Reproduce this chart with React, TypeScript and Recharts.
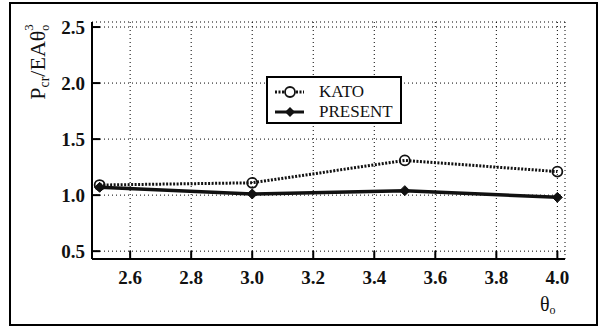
import React from "react";
import { CartesianGrid, Legend, Line, LineChart, XAxis, YAxis } from "recharts";

const theta = [2.5, 3.0, 3.5, 4.0];
const kato = [1.09, 1.11, 1.31, 1.21];
const present = [1.07, 1.01, 1.04, 0.98];
const xTicks = [2.6, 2.8, 3.0, 3.2, 3.4, 3.6, 3.8, 4.0];
const yTicks = [0.5, 1.0, 1.5, 2.0, 2.5];
const seriesNames = ["KATO", "PRESENT"];

const data = theta.map((t, i) => ({ theta: t, kato: kato[i], present: present[i] }));

const FONT = "'Liberation Serif', 'DejaVu Serif', serif";
const INK = "#111";

const Diamond = (props: any) => {
  const { cx, cy } = props;
  if (cx == null || cy == null) return null;
  const s = 5;
  return (
    <polygon
      points={`${cx},${cy - s} ${cx + s},${cy} ${cx},${cy + s} ${cx - s},${cy}`}
      fill={INK}
      stroke={INK}
    />
  );
};

const LegendBox = () => (
  <div
    style={{
      width: 136,
      height: 48,
      border: "2px solid #000",
      boxSizing: "border-box",
      background: "#fff",
      paddingTop: 4,
      fontFamily: FONT,
      fontSize: 17,
      color: INK,
    }}
  >
    {seriesNames.map((name, i) => (
      <div key={name} style={{ height: 20, display: "flex", alignItems: "center" }}>
        <svg width={44} height={20} style={{ marginLeft: 5, display: "block" }}>
          {i === 0 ? (
            <g>
              <line x1={2} y1={10} x2={31} y2={10} stroke={INK} strokeWidth={3} strokeDasharray="2 1.5" />
              <circle cx={17} cy={10} r={5} fill="#fff" stroke={INK} strokeWidth={1.8} />
            </g>
          ) : (
            <g>
              <line x1={2} y1={10} x2={31} y2={10} stroke={INK} strokeWidth={3} />
              <polygon points="17,5 22,10 17,15 12,10" fill={INK} />
            </g>
          )}
        </svg>
        <span style={{ marginLeft: 2, lineHeight: "20px" }}>{name}</span>
      </div>
    ))}
  </div>
);

const YLabel = () => (
  <text
    x={45}
    y={62}
    transform="rotate(-90, 45, 62)"
    textAnchor="middle"
    fontFamily={FONT}
    fontSize={22}
    fill={INK}
  >
    P
    <tspan fontSize={14} dy={4}>cr</tspan>
    <tspan fontSize={22} dy={-4}>/EAθ</tspan>
    <tspan fontSize={12} dy={4}>o</tspan>
    <tspan fontSize={13} dx={-6} dy={-16}>3</tspan>
  </text>
);

const XLabel = () => (
  <text x={540} y={311} fontFamily={FONT} fontSize={20} fill={INK}>
    θ
    <tspan fontSize={12} dy={3}>o</tspan>
  </text>
);

export default function App() {
  return (
    <div style={{ position: "absolute", left: 0, top: 0, width: 605, height: 331, background: "#fff" }}>
      <div
        style={{
          position: "absolute",
          left: 9,
          top: 2,
          width: 589,
          height: 324,
          border: "2px solid #000",
          boxSizing: "border-box",
        }}
      />
      <LineChart
        width={605}
        height={331}
        data={data}
        margin={{ top: 22, right: 40, left: 0, bottom: 0 }}
        style={{ position: "absolute", left: 0, top: 0 }}
      >
        <CartesianGrid stroke="#000" strokeDasharray="1 3" strokeWidth={1} />
        <XAxis
          type="number"
          dataKey="theta"
          domain={[2.475, 4.025]}
          ticks={xTicks}
          allowDataOverflow
          height={72}
          tickFormatter={(v: number) => v.toFixed(1)}
          tick={{ fontFamily: FONT, fontSize: 19, fontWeight: 700, fill: INK }}
          axisLine={{ stroke: "#000", strokeWidth: 2 }}
          tickLine={{ stroke: "#000", strokeWidth: 2 }}
          tickSize={-8}
          tickMargin={20}
          label={{ content: () => <XLabel /> }}
        />
        <YAxis
          type="number"
          domain={[0.43, 2.545]}
          ticks={yTicks}
          allowDataOverflow
          width={92}
          tickFormatter={(v: number) => v.toFixed(1)}
          tick={{ fontFamily: FONT, fontSize: 19, fontWeight: 700, fill: INK }}
          axisLine={{ stroke: "#000", strokeWidth: 2 }}
          tickLine={{ stroke: "#000", strokeWidth: 2 }}
          tickSize={-8}
          tickMargin={15}
          label={{ content: () => <YLabel /> }}
        />
        <Legend
          layout="vertical"
          align="center"
          verticalAlign="middle"
          content={() => <LegendBox />}
          wrapperStyle={{ left: 266, top: 76, width: 136, height: 48 }}
        />
        <Line
          name="KATO"
          dataKey="kato"
          type="linear"
          stroke={INK}
          strokeWidth={3}
          strokeDasharray="2 1.5"
          dot={{ r: 5, fill: "none", stroke: INK, strokeWidth: 1.8, strokeDasharray: "" }}
          isAnimationActive={false}
        />
        <Line
          name="PRESENT"
          dataKey="present"
          type="linear"
          stroke={INK}
          strokeWidth={3.5}
          dot={<Diamond />}
          isAnimationActive={false}
        />
      </LineChart>
    </div>
  );
}
